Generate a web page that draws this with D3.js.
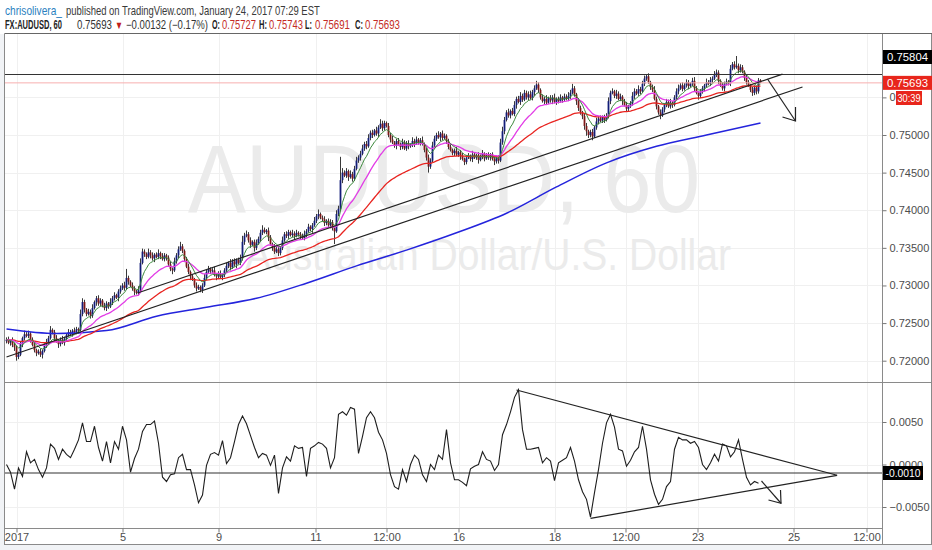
<!DOCTYPE html>
<html>
<head>
<meta charset="utf-8">
<script src="https://cdn.jsdelivr.net/npm/d3@7"></script>
<style>
  body { margin: 0; background: #f1f3f6; }
  svg { display: block; font-family: "Liberation Sans", Arial, sans-serif; }
</style>
</head>
<body>
<svg id="chart" width="932" height="550"></svg>
<script>
// AUDUSD 60 min, hourly closes in pips above 0.7000 (bar 0 = Jan 2 afternoon)
var closes = [
  228,224,226,221,218,205,208,222,230,235,233,236,228,221,214,210,212,208,213,220,
  225,230,241,238,230,226,222,228,224,229,234,238,236,240,238,242,241,262,278,268,
  262,265,260,270,278,283,276,280,273,270,276,272,278,283,287,284,292,296,300,297,
  310,305,300,296,292,290,294,330,345,342,338,344,340,336,341,338,343,339,335,340,
  337,328,322,320,332,340,348,352,346,335,325,318,312,308,300,296,298,294,300,310,
  318,322,319,320,314,312,316,311,314,320,326,330,324,332,328,334,330,336,358,366,
  368,360,354,358,350,356,362,370,374,371,373,364,355,350,345,348,343,350,360,368,
  366,371,367,369,366,370,368,365,363,368,372,378,375,380,386,392,395,390,388,383,
  386,380,384,376,372,395,402,440,450,446,452,444,448,442,455,466,470,475,482,488,
  485,496,503,500,506,502,510,515,509,516,512,500,494,490,486,492,488,484,490,482,
  489,485,487,492,489,494,490,493,488,480,470,458,466,486,495,500,497,502,496,499,
  492,484,480,476,479,474,477,472,468,464,470,472,468,474,470,473,467,471,475,469,
  473,470,474,468,465,470,466,490,505,520,530,526,532,528,540,548,544,552,547,556,
  550,554,549,557,562,567,560,550,545,548,543,549,546,550,544,548,545,550,547,551,
  548,552,556,562,554,545,536,530,525,512,505,500,504,498,510,518,522,519,524,520,
  525,545,556,558,552,555,548,551,545,540,535,538,542,552,558,555,561,558,568,575,
  578,570,564,560,548,538,530,526,534,540,544,538,543,540,550,558,562,566,561,566,
  570,565,568,572,562,556,552,557,562,566,570,568,573,575,580,583,572,566,562,568,
  571,569,588,594,590,592,586,590,584,576,570,566,560,556,563,558,572.7,569.3
];
var firstOpen = 226;

// wick lengths above / below the body, in pips
var hiWick = [
  3,4,2,5,3,2,4,3,2,5,3,4,2,3,5,2,3,4,2,3, 4,3,5,2,3,4,2,3,5,3,2,4,3,2,4,3,2,6,5,3,
  2,4,3,5,2,3,4,3,2,4,3,2,5,3,4,2,3,4,3,5, 12,3,2,4,3,2,5,6,4,3,2,5,3,4,2,3,5,2,4,3,
  2,3,4,2,5,3,4,6,3,2,3,4,2,3,2,4,3,2,3,5, 3,4,2,3,5,2,3,4,2,3,4,2,5,3,4,2,3,5,8,4,
  5,3,4,2,3,5,3,4,6,3,2,4,3,2,5,3,4,2,5,3, 4,3,2,5,3,4,2,3,4,5,3,4,2,3,5,3,6,2,3,4,
  2,3,4,3,2,5,4,31,6,3,4,2,5,3,4,5,3,4,5,3, 4,5,3,4,2,5,3,6,4,3,2,4,3,5,2,3,4,2,5,3,
  3,4,2,5,3,4,2,3,5,2,3,4,3,5,4,3,5,2,4,3, 2,3,4,2,3,5,2,3,4,2,3,4,2,5,3,2,4,3,5,2,
  3,4,2,3,5,2,3,5,6,4,3,5,2,4,5,3,4,5,3,4, 3,4,5,3,4,5,3,2,4,3,5,2,4,3,5,2,3,4,2,4,
  3,5,4,6,3,2,4,3,2,3,4,2,3,4,2,5,3,4,2,3, 4,5,3,4,2,5,3,4,2,3,4,2,3,5,4,3,5,3,4,4,
  3,4,2,3,5,3,2,4,3,2,4,3,5,2,3,4,5,3,4,3, 4,3,2,4,5,3,2,4,3,2,5,3,4,3,5,4,3,2,4,3,
  4,2,5,3,4,13,3,4,3,2,4,3,2,4,3,2,3,1.6
];
var loWick = [
  3,2,4,3,5,5,3,2,4,3,2,3,4,2,3,4,2,3,5,2, 3,4,2,3,4,2,5,3,2,4,3,2,3,4,2,3,5,2,3,4,
  3,2,4,3,2,5,3,4,2,3,4,3,2,4,3,2,5,3,2,4, 3,4,2,3,5,2,3,3,2,4,3,2,4,3,5,2,3,4,2,3,
  4,2,3,5,2,3,4,2,3,4,2,3,5,2,3,4,2,3,4,2, 3,2,4,3,2,5,3,2,4,3,2,3,4,2,3,5,2,3,3,4,
  2,3,4,2,5,3,2,4,3,2,3,5,2,4,3,2,4,3,3,2, 3,4,2,3,5,2,3,4,2,3,4,2,3,5,2,3,4,2,3,4,
  3,2,4,3,17,2,3,3,4,2,3,5,2,4,3,2,3,4,2,3, 4,2,3,4,2,3,5,2,4,3,2,3,4,2,3,5,2,4,3,2,
  3,4,2,3,5,2,3,4,2,3,4,8,3,2,4,3,2,5,3,2, 4,3,2,3,4,2,3,5,2,4,3,2,3,4,2,3,5,2,3,4,
  2,3,4,2,5,3,4,2,3,4,2,3,4,2,3,5,2,4,3,2, 3,4,2,3,5,2,4,3,2,4,3,2,3,5,2,4,3,2,4,3,
  2,3,4,2,3,5,4,3,4,5,6,4,3,5,2,3,4,2,3,4, 2,3,4,2,3,4,2,3,5,2,4,3,2,3,4,2,3,4,2,3,
  3,2,4,3,2,4,3,5,2,4,3,2,3,4,2,3,4,2,3,2, 3,4,2,3,4,2,5,3,2,4,3,2,3,4,2,3,4,2,3,4,
  2,3,4,2,3,2,4,3,2,4,3,2,3,4,3,4,3,0.2
];

// 200 SMA (blue), read every 25 bars, pips above 0.7000
var smaBars = [0, 25, 50, 75, 100, 125, 150, 175, 200, 225, 250, 275, 300, 325, 350, 377];
var sma200 = [242, 236, 240, 259, 271, 283, 303, 326, 347, 370, 396, 431, 463, 485, 500, 516];

// lower pane oscillator, every second bar, in units of 0.0001
var osc = [
  0,-9,-29,-4,-14,15,2,6,-6,-15, -4,24,19,6,18,12,8,18,29,49,
  27,27,45,20,4,27,2,27,18,45, 29,-9,7,18,39,47,47,51,25,-15,
  -20,-12,-11,8,12,-6,-6,-24,-45,-36, -1,12,14,11,28,1,8,27,47,57,
  48,34,20,8,13,11,-1,11,-34,-4, 9,4,22,19,20,-14,19,22,26,24,
  19,-4,8,59,62,58,67,65,13,33, 55,62,55,38,29,13,-12,-26,-29,-6,
  -20,0,11,6,-12,-20,0,-6,11,6, 41,2,-18,-18,-21,-25,-5,-2,0,15,
  6,4,-7,0,35,47,62,79,88,41, 18,18,19,20,2,8,4,-19,2,5,
  8,20,4,-18,-32,-41,-62,-33,-6,25, 49,59,44,18,16,-2,5,15,20,45,
  18,-18,-35,-47,-41,-26,-20,18,32,29, 29,25,27,20,0,-6,2,12,4,24,
  22,9,15,29,6,-15,-24,-20,-22
];

// axes
var priceTicks = [0.72, 0.725, 0.73, 0.735, 0.74, 0.745, 0.75, 0.755];
var oscTicks = [0.005, 0, -0.005];
var timeBars = [5, 58, 106, 154.5, 190, 226, 274, 309.5, 345.5, 393.5, 430];
var timeLabels = ['2017', '5', '9', '11', '12:00', '16', '18', '12:00', '23', '25', '12:00'];

// levels and drawings (bar index, price)
var lastPrice = 0.75693;
var resistance = 0.75804;
var oscLevel = -0.0010;
var upperTrend = [[65.5, 0.7290], [388, 0.7581]];
var lowerTrend = [[0, 0.72049], [398, 0.75638]];
var mainArrow = [[380.5, 0.75744], [394.5, 0.75186]];
var mainArrowHead = [[388, 0.75239], [394.5, 0.75186], [394.5, 0.75372]];
var oscUpper = [[255, 0.00876], [415.3, -0.00127]];
var oscLower = [[292, -0.00633], [415.3, -0.00127]];
var oscArrow = [[377.5, -0.00194], [387.25, -0.00456]];
var oscArrowHead = [[381, -0.00418], [387.25, -0.00456], [387, -0.0030]];

var svg = d3.select('#chart');
var left = 5, axisX = 882, right = 931;
var mainTop = 34, mainBottom = 382, oscBottom = 528, frameBottom = 545;

function toPrice(p) { return 0.7 + p / 10000; }

function ema(arr, n) {
  var k = 2 / (n + 1), prev = arr[0];
  return arr.map(function(v, i) {
    prev = i === 0 ? v : v * k + prev * (1 - k);
    return prev;
  });
}

var x = d3.scaleLinear().domain([0, 438]).range([6.5, 882.5]);
var y = d3.scaleLinear().domain([0.72, 0.75]).range([360.7, 135]);
var yo = d3.scaleLinear().domain([-0.005, 0.005]).range([507, 422]);

// backgrounds
svg.append('rect').attr('x', 0).attr('y', 0).attr('width', 932).attr('height', mainTop).attr('fill', '#fff');
svg.append('rect').attr('x', left).attr('y', mainTop).attr('width', right - left).attr('height', frameBottom - mainTop).attr('fill', '#fff');

var defs = svg.append('defs');
defs.append('clipPath').attr('id', 'clipMain').append('rect')
  .attr('x', left).attr('y', mainTop).attr('width', axisX - left).attr('height', mainBottom - mainTop);
defs.append('clipPath').attr('id', 'clipOsc').append('rect')
  .attr('x', left).attr('y', mainBottom).attr('width', axisX - left).attr('height', oscBottom - mainBottom);

// grid
var grid = svg.append('g').attr('stroke', '#f0f0f0').attr('stroke-width', 1);
grid.selectAll('.vg').data(timeBars).enter().append('line')
  .attr('x1', function(d) { return Math.round(x(d)) + 0.5; })
  .attr('x2', function(d) { return Math.round(x(d)) + 0.5; })
  .attr('y1', mainTop).attr('y2', oscBottom);
grid.selectAll('.hg').data(priceTicks).enter().append('line')
  .attr('x1', left).attr('x2', axisX)
  .attr('y1', function(d) { return Math.round(y(d)) + 0.5; })
  .attr('y2', function(d) { return Math.round(y(d)) + 0.5; });
grid.selectAll('.og').data(oscTicks).enter().append('line')
  .attr('x1', left).attr('x2', axisX)
  .attr('y1', function(d) { return Math.round(yo(d)) + 0.5; })
  .attr('y2', function(d) { return Math.round(yo(d)) + 0.5; });

var main = svg.append('g').attr('clip-path', 'url(#clipMain)');

// watermark
main.append('text').attr('x', 188).attr('y', 212)
  .attr('font-size', 96).attr('fill', '#ebebeb')
  .attr('textLength', 512).attr('lengthAdjust', 'spacingAndGlyphs')
  .text('AUDUSD, 60');
main.append('text').attr('x', 245).attr('y', 270)
  .attr('font-size', 45).attr('fill', '#ebebeb')
  .attr('textLength', 486).attr('lengthAdjust', 'spacingAndGlyphs')
  .text('Australian Dollar/U.S. Dollar');

// candles
var bars = closes.map(function(c, i) {
  var o = i === 0 ? firstOpen : closes[i - 1];
  return {
    i: i,
    o: toPrice(o),
    c: toPrice(c),
    h: toPrice(Math.max(o, c) + hiWick[i]),
    l: toPrice(Math.min(o, c) - loWick[i])
  };
});

main.append('g').selectAll('line').data(bars).enter().append('line')
  .attr('x1', function(d) { return x(d.i); })
  .attr('x2', function(d) { return x(d.i); })
  .attr('y1', function(d) { return y(d.h); })
  .attr('y2', function(d) { return y(d.l); })
  .attr('stroke', '#3a3a3a').attr('stroke-width', 1);

main.append('g').selectAll('rect').data(bars).enter().append('rect')
  .attr('x', function(d) { return x(d.i) - 0.9; })
  .attr('width', 1.8)
  .attr('y', function(d) { return y(Math.max(d.o, d.c)); })
  .attr('height', function(d) { return Math.max(1, Math.abs(y(d.o) - y(d.c))); })
  .attr('fill', function(d) { return d.c >= d.o ? '#131d78' : '#7d1717'; });

// moving averages
var maLine = d3.line()
  .x(function(d, i) { return x(i); })
  .y(function(d) { return y(toPrice(d)); });

main.append('path').datum(smaBars.map(function(b, i) { return [b, sma200[i]]; }))
  .attr('d', d3.line().curve(d3.curveMonotoneX)
    .x(function(d) { return x(d[0]); })
    .y(function(d) { return y(toPrice(d[1])); }))
  .attr('fill', 'none').attr('stroke', '#2424dc').attr('stroke-width', 1.5);
main.append('path').datum(ema(closes, 55)).attr('d', maLine)
  .attr('fill', 'none').attr('stroke', '#e8231f').attr('stroke-width', 1.3);
main.append('path').datum(ema(closes, 21)).attr('d', maLine)
  .attr('fill', 'none').attr('stroke', '#e23ce6').attr('stroke-width', 1.3);
main.append('path').datum(ema(closes, 8)).attr('d', maLine)
  .attr('fill', 'none').attr('stroke', '#3d8a3d').attr('stroke-width', 1);

// horizontal levels
main.append('line').attr('x1', left).attr('x2', axisX)
  .attr('y1', y(lastPrice)).attr('y2', y(lastPrice))
  .attr('stroke', '#f7b0b0').attr('stroke-width', 1);
main.append('line').attr('x1', left).attr('x2', axisX)
  .attr('y1', y(resistance)).attr('y2', y(resistance))
  .attr('stroke', '#333').attr('stroke-width', 1);

// trend lines and arrow
var drawLine = d3.line()
  .x(function(d) { return x(d[0]); })
  .y(function(d) { return y(d[1]); });
[upperTrend, lowerTrend, mainArrow, mainArrowHead].forEach(function(pts) {
  main.append('path').datum(pts).attr('d', drawLine)
    .attr('fill', 'none').attr('stroke', '#222').attr('stroke-width', 1.2);
});

// oscillator pane
var oscG = svg.append('g').attr('clip-path', 'url(#clipOsc)');
oscG.append('line').attr('x1', left).attr('x2', axisX)
  .attr('y1', yo(oscLevel)).attr('y2', yo(oscLevel))
  .attr('stroke', '#333').attr('stroke-width', 1.2);
oscG.append('path').datum(osc)
  .attr('d', d3.line()
    .x(function(d, k) { return x(2 * k); })
    .y(function(d) { return yo(d / 10000); }))
  .attr('fill', 'none').attr('stroke', '#1e1e1e').attr('stroke-width', 1.1);
var drawOsc = d3.line()
  .x(function(d) { return x(d[0]); })
  .y(function(d) { return yo(d[1]); });
[oscUpper, oscLower, oscArrow, oscArrowHead].forEach(function(pts) {
  oscG.append('path').datum(pts).attr('d', drawOsc)
    .attr('fill', 'none').attr('stroke', '#222').attr('stroke-width', 1.2);
});

// frame
var frame = svg.append('g').attr('stroke', '#8a8a8a').attr('stroke-width', 1).attr('fill', 'none');
frame.append('line').attr('x1', left - 0.5).attr('x2', 932).attr('y1', mainTop - 0.5).attr('y2', mainTop - 0.5).attr('stroke', '#666');
frame.append('line').attr('x1', left - 0.5).attr('x2', left - 0.5).attr('y1', mainTop - 0.5).attr('y2', frameBottom);
frame.append('line').attr('x1', axisX + 0.5).attr('x2', axisX + 0.5).attr('y1', mainTop).attr('y2', frameBottom - 1);
frame.append('line').attr('x1', left).attr('x2', 932).attr('y1', mainBottom + 0.5).attr('y2', mainBottom + 0.5);
frame.append('line').attr('x1', left).attr('x2', axisX).attr('y1', oscBottom + 0.5).attr('y2', oscBottom + 0.5);
frame.append('line').attr('x1', left - 0.5).attr('x2', 932).attr('y1', frameBottom - 0.5).attr('y2', frameBottom - 0.5);
frame.append('line').attr('x1', right + 0.5).attr('x2', right + 0.5).attr('y1', mainTop).attr('y2', frameBottom);

// axes
function styleAxis(g) {
  g.select('.domain').remove();
  g.selectAll('.tick line').attr('stroke', '#777');
  g.selectAll('.tick text').attr('fill', '#4d4d4d').attr('font-size', 11)
    .attr('font-family', '"Liberation Sans", Arial, sans-serif');
}
svg.append('g').attr('transform', 'translate(' + (axisX + 0.5) + ',0)')
  .call(d3.axisRight(y).tickValues(priceTicks).tickFormat(d3.format('.5f')).tickSize(4).tickPadding(3))
  .call(styleAxis);
svg.append('g').attr('transform', 'translate(' + (axisX + 0.5) + ',0)')
  .call(d3.axisRight(yo).tickValues(oscTicks).tickFormat(d3.format('.4f')).tickSize(4).tickPadding(3))
  .call(styleAxis);
svg.append('g').attr('transform', 'translate(0,' + (oscBottom + 0.5) + ')')
  .call(d3.axisBottom(x).tickValues(timeBars)
    .tickFormat(function(d, i) { return timeLabels[i]; }).tickSize(4).tickPadding(1))
  .call(styleAxis);

// price label boxes on the axis
function axisBox(bx, yc, w, fill, label, tw) {
  svg.append('rect').attr('x', bx).attr('y', yc - 7).attr('width', w).attr('height', 14).attr('fill', fill);
  svg.append('text').attr('x', bx + w / 2).attr('y', yc + 4).attr('font-size', 11.5)
    .attr('text-anchor', 'middle').attr('fill', '#fff')
    .attr('textLength', tw).attr('lengthAdjust', 'spacingAndGlyphs')
    .text(label);
}
axisBox(883, 57, 49, '#000', d3.format('.5f')(resistance), 41);
axisBox(883, y(lastPrice), 49, '#e8261c', d3.format('.5f')(lastPrice), 41);
// countdown box hides most of the 0.75500 label
svg.append('rect').attr('x', 922).attr('y', 91).attr('width', 9).attr('height', 13).attr('fill', '#fff');
axisBox(896, 98, 26, '#e8261c', '30:39', 23);
axisBox(883, yo(oscLevel), 40, '#000', '-0.0010', 35);

// header: each piece is squeezed horizontally to the width it has in the screenshot
function headText(tx, ty, str, w, opts) {
  var t = svg.append('text').attr('x', 0).attr('y', 0)
    .attr('font-size', opts.size || 12).attr('fill', opts.fill || '#333')
    .attr('font-weight', opts.bold ? 'bold' : 'normal')
    .text(str);
  var len = t.node().getComputedTextLength();
  t.attr('transform', 'translate(' + tx + ',' + ty + ') scale(' + (w / len) + ',1)');
  return t;
}
headText(5, 15, 'chrisolivera_', 57, {fill: '#2a7fc0', size: 13});
headText(66, 15, 'published on TradingView.com, January 24, 2017 07:29 EST', 254, {size: 13, fill: '#3a3a3a'});
headText(5, 29, 'FX:AUDUSD, 60', 57, {bold: true, size: 12, fill: '#222'});
headText(77, 29, '0.75693', 35, {size: 12, fill: '#333'});
headText(115, 29, '\u25BC', 8, {size: 11, fill: '#c0201a'});
headText(126, 29, '\u22120.00132 (\u22120.17%)', 82, {size: 12, fill: '#333'});
headText(212, 29, 'O:', 8, {bold: true, size: 12, fill: '#222'});
headText(222, 29, '0.75727', 34, {size: 12, fill: '#c42b25'});
headText(259, 29, 'H:', 8, {bold: true, size: 12, fill: '#222'});
headText(269, 29, '0.75743', 34, {size: 12, fill: '#c42b25'});
headText(305, 29, 'L:', 7, {bold: true, size: 12, fill: '#222'});
headText(315, 29, '0.75691', 35, {size: 12, fill: '#c42b25'});
headText(355, 29, 'C:', 8, {bold: true, size: 12, fill: '#222'});
headText(365, 29, '0.75693', 35, {size: 12, fill: '#c42b25'});
</script>
</body>
</html>
